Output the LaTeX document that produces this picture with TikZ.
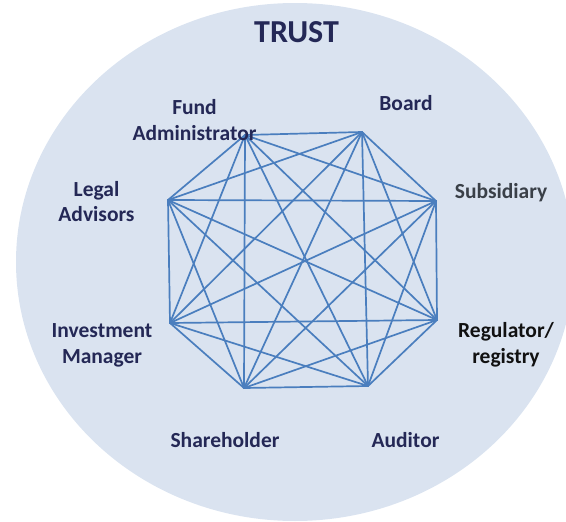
\documentclass[tikz,border=0pt]{standalone}
\usepackage{fontspec}
\setmainfont{Carlito}
\definecolor{trustfill}{RGB}{218,227,240}
\definecolor{linkblue}{RGB}{74,126,190}
\definecolor{navytext}{RGB}{36,40,86}
\definecolor{slatetext}{RGB}{58,64,72}
\definecolor{blacktext}{RGB}{17,17,17}
\begin{document}
\begin{tikzpicture}[x=1pt,y=-1pt,
  party/.style={font=\bfseries\fontsize{21.5}{25.5}\selectfont, text=navytext,
                align=center, anchor=base, inner sep=0pt},
  title/.style={font=\bfseries\fontsize{32}{36}\selectfont, text=navytext,
                anchor=base, inner sep=0pt},
  link/.style={draw=linkblue, line width=1.7pt, line cap=round, line join=round}]
\useasboundingbox (0,0) rectangle (566,522);

% the trust: a large pale ellipse, cut by the page edge
\begin{scope}
  \clip (0,0) rectangle (566,522);
  \fill[trustfill] (295,262) ellipse [x radius=279pt, y radius=259pt];
\end{scope}

\node[title] (trust) at (296.5,42.3) {TRUST};

% corners of the octagon
\coordinate (fa) at (245,135);
\coordinate (bd) at (362,132);
\coordinate (sb) at (436,201);
\coordinate (rg) at (437,320);
\coordinate (au) at (368,386);
\coordinate (sh) at (244,388);
\coordinate (im) at (170,323);
\coordinate (la) at (168,200);

% every party linked to every other party
\foreach \p/\q in {fa/bd,fa/sb,fa/rg,fa/au,fa/sh,fa/im,fa/la,
                   bd/sb,bd/rg,bd/au,bd/sh,bd/im,bd/la,
                   sb/rg,sb/au,sb/sh,sb/im,sb/la,
                   rg/au,rg/sh,rg/im,rg/la,
                   au/sh,au/im,au/la,
                   sh/im,sh/la,
                   im/la}
  \draw[link] (\p) -- (\q);

% party labels (base anchor sits on the last line)
\node[party] (lfa) at (194.5,140) {Fund\\Administrator};
\node[party] (lbd) at (406,110) {Board};
\node[party, text=slatetext] (lsb) at (501,198) {Subsidiary};
\node[party, text=blacktext] (lrg) at (506,363) {Regulator/\\registry};
\node[party] (lau) at (405.5,447) {Auditor};
\node[party] (lsh) at (225,447) {Shareholder};
\node[party] (lim) at (102,363) {Investment\\Manager};
\node[party] (lla) at (96.5,221.5) {Legal\\Advisors};
\end{tikzpicture}
\end{document}
